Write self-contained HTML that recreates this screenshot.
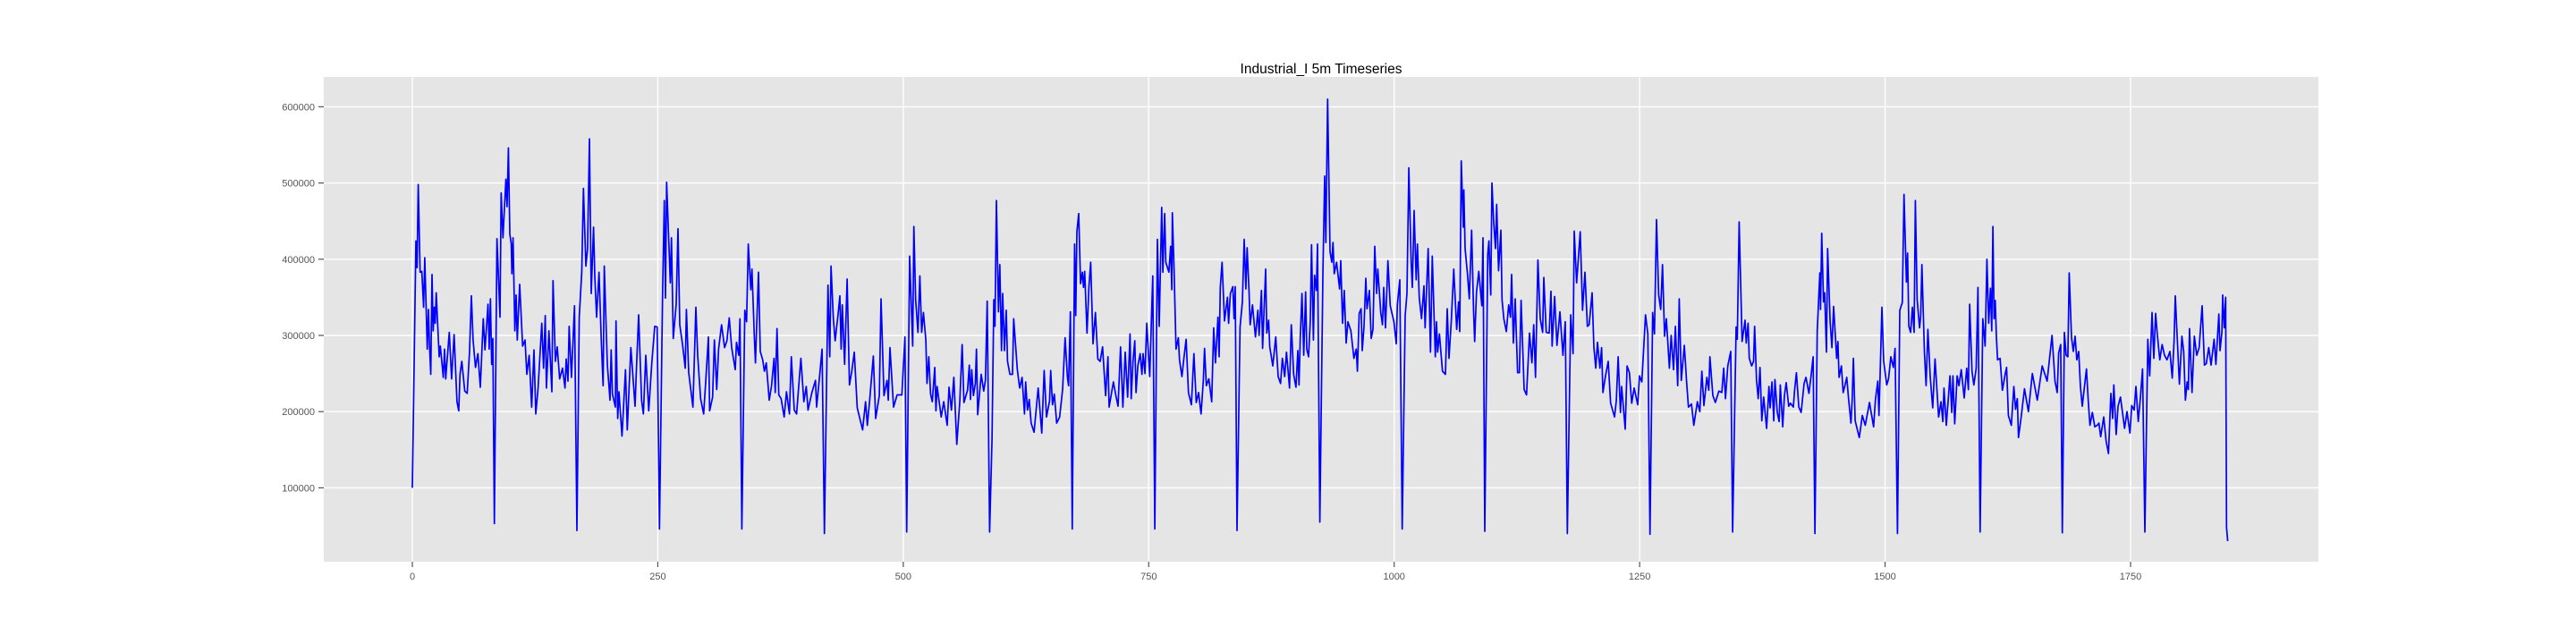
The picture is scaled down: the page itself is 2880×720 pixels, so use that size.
<!DOCTYPE html>
<html><head><meta charset="utf-8"><style>
html,body{margin:0;padding:0;background:#fff;}
svg{display:block;font-family:"Liberation Sans","DejaVu Sans",sans-serif;}
</style></head><body>
<svg id="chart" width="2880" height="720" viewBox="0 0 2880 720" xmlns="http://www.w3.org/2000/svg">
<rect x="0" y="0" width="2880" height="720" fill="#ffffff"/>
<rect x="362" y="86" width="2230" height="542" fill="#e5e5e5"/>
<g id="grid"></g>
<g id="ticks"></g>
<path id="series" fill="none" stroke="#0000ff" stroke-width="1.7" stroke-linejoin="round"/>
<text x="1477" y="82" font-size="15.5" text-anchor="middle" fill="#000">Industrial_I 5m Timeseries</text>
</svg>
<script>
const xTicks = [0, 250, 500, 750, 1000, 1250, 1500, 1750];
const yTicks = [100000, 200000, 300000, 400000, 500000, 600000];
const idx = [0,3.6,4.8,6,7.9,9.7,11.5,12.7,15.2,16.4,17.6,18.8,20,21.2,22.4,23.3,24.3,27.3,28.5,31.5,32.8,34,35.8,37.6,40,42.5,45.5,47.3,48.6,50.4,53.4,55.8,58.3,60.1,61.9,64.3,66.8,69.2,72.2,74,77.1,78.3,79.5,80.8,82,83.5,86.2,89.3,90.5,92.3,95.3,96.5,97.8,99.3,100.8,101.4,102.6,104.4,105.7,106.9,109.3,112.3,114.8,116.6,119,121.5,123.9,125.7,128.1,131.8,133.6,135.4,136.6,139.1,142.1,143.3,145.7,147.6,150,153,155.5,156.7,158.5,159.7,162.1,165.2,167.6,170,172.5,174.3,176.7,178.5,180.4,182.2,184.6,185.8,187.7,190.1,192.5,194.3,195.5,198.6,
201.3,202.5,203.8,206.8,207.4,209.2,210.4,213.5,217.1,218.9,222.6,226.8,228,230.5,233.5,235.3,237.8,240.8,243.8,246.9,249.3,251.7,254.8,256.6,257.8,259,262.7,263.9,265.7,268.7,270.6,272.4,275.4,277.9,279.1,281.5,285.8,288.8,290.6,293.6,296.7,299.1,301.5,302.8,305.8,307.6,310,311.9,314.9,318,320.4,322.8,325.2,328.9,330.1,332.5,333.7,335.6,338.6,340.4,342.2,344.7,345.9,348.3,349.5,352.6,354.4,356.8,358.6,360.5,363.5,365.9,368.4,369.6,371.4,373.2,375.6,378.7,381.1,384.1,386,389,391.4,395.7,398.7,401.2,403,
406.9,410.6,411.8,414.2,417.3,419.7,423.3,425.2,426.4,428.8,430.6,433.7,435.5,436.7,437.9,440.3,442.8,445.2,447.6,450.1,453.1,458.6,461.6,463.4,465.8,469.5,471.9,475.6,477.4,480.4,483.5,484.7,486.5,490.1,493.8,498.6,501.7,503.5,506.5,509.6,510.8,512.6,515,516.9,518.7,520.5,523,524.2,526,527.8,529.6,532.1,533.3,534.5,538.7,541.2,544.8,546.6,549.1,551.5,554.5,557.6,560,561.8,565.5,567.3,568.5,569.7,571.5,573.4,574.6,575.8,579.4,581.9,583.7,585.5,588,590.4,592.2,593.4,594.9,597,598.3,600.1,601.3,603.1,604.9,606.2,608.6,
611.3,612.5,616.2,618.6,621,623.5,624.7,626.5,628.3,630.2,633.2,637.4,641.1,643.5,645.9,649,650.2,652,653.8,656.3,659.3,662.3,664.8,667.2,668.4,670.2,672.1,674.5,675.7,676.9,678.7,680.6,682.4,683.6,684.8,687.2,689.1,690.9,693.3,695.7,698.2,700.6,703,706.1,708.5,709.7,714,716.4,718.8,721.3,723.7,726.1,728.5,731,732.2,734,735.8,737.1,738.9,741.3,743.1,744.3,746.2,748,751,754.1,756.2,758.9,760.7,763.2,764.4,766.2,767.4,770.5,772.3,773.5,774.1,775.9,777.8,780.2,781.4,783.8,785.6,788.1,790.5,793.5,796,798.4,800.8,803.3,805.7,806.9,808.7,811.2,814.2,
816.2,818,820.5,821.7,822.9,824.7,827.2,830.2,831.4,833.2,835.7,836.9,838.1,839.9,843,845.4,847.2,849,850.2,852.1,853.3,855.7,858.7,861.2,862.4,864.8,866,869.1,870.3,872.1,873.3,876.4,879.4,881.8,884.3,886.1,888.5,890.3,893.4,895.2,897.6,900,901.9,903.1,904.3,906.1,907.9,909.8,911,912.8,914.6,915.8,917.7,918.9,920.7,921.9,924.3,927.4,929.2,930.4,932.2,934.7,936.5,937.7,939,941.3,944.4,945.6,947.4,949.2,951.1,952.9,955.9,959,961.4,962.6,964.4,966.3,967.5,969.3,971.1,972.3,974.8,976.6,978.4,980.2,982.1,983.3,986.3,988.1,989.3,991.2,993.6,996,999.7,1002.1,1003.3,1005.7,1008.2,1011.2,1013,1014.9,1017.3,1018.5,1020.3,
1022.4,1023.7,1025.5,1027.9,1030.3,1031.5,1034.6,1037,1038.8,1041.9,1043.1,1044.3,1046.1,1049.2,1052.2,1054,1055.8,1058.3,1060.7,1063.7,1065.6,1066.8,1068.3,1070.4,1071,1072.2,1074.7,1076.5,1078.9,1080.8,1082,1083.8,1086.2,1089.3,1090.5,1092.3,1095.3,1096.5,1098.4,1099.6,1101.4,1103.2,1104.4,1106.3,1108.7,1109.9,1111.7,1114.2,1116.6,1118.4,1119.6,1121.4,1123.3,1125.7,1127.5,1129.3,1132.4,1134.8,1137.8,1140.3,1142.1,1143.9,1146.4,1148.8,1151.2,1152.4,1154.9,1157.9,1159.7,1160.9,1163.4,1165.8,1168.8,1171.9,1174.3,1176.4,1179.8,1182.2,1183.4,1185.8,1189.5,1191.9,1194.3,1196.8,1198.6,1201.6,1203.4,1205.3,1207.1,1209.5,1211.3,1212.6,1215,1218,1220.5,1224.5,1226.3,1228.1,
1230.5,1231.7,1235.3,1237.2,1239.6,1242,1244.4,1248.1,1249.9,1252.3,1256,1258.4,1260.5,1263.3,1265.1,1267.2,1269.4,1271.5,1273.3,1275.4,1277.2,1280.3,1282.1,1284.5,1286.4,1288.8,1290.3,1292.4,1295.5,1297.9,1299.7,1302.8,1305.2,1308.8,1311.3,1313.4,1315.5,1318.5,1320.4,1321.6,1324.6,1327.1,1330.7,1333.7,1335.6,1337.4,1339.8,1342.8,1344.7,1348.3,1349.5,1351.4,1354.4,1357.4,1358.6,1360.5,1361.7,1364.1,1366,1367.1,1369,1370.8,1372.6,1374.4,1376.3,1379.3,1381.7,1382.9,1384.8,1386.6,1387.8,1390.2,1392.1,1393.3,1395.7,1397.5,1399.3,1401.8,1403.6,1406.6,1407.8,1409.7,1412.1,1414.5,1417.5,1419.4,1422.4,1424.8,1426.7,1428.5,1430.9,
1433.5,1434.3,1435.5,1437.3,1438.5,1440.3,1441.5,1444,1445.8,1447.6,1450.7,1451.9,1453.1,1455.5,1457.3,1459.2,1461,1462.8,1465.2,1466.5,1467.7,1469.5,1473.7,1476.8,1479.8,1484.1,1488.3,1490.1,1492.6,1493.8,1495,1496.8,1498.6,1501.7,1503.5,1505.9,1508.4,1510.2,1512.6,1515,1517.5,1519.3,1521.7,1522.9,1524.2,1526,1527.8,1529.6,1530.8,1532.7,1535.1,1536.3,1537.5,1540,1541.8,1543.6,1546,1548.5,1550.9,1554.5,1557,1558.8,1560,1562.4,1566.1,1567.9,1569.1,1570.9,1573.4,1575.2,1577.6,1580.6,1583.1,1584.9,1586.1,1588.5,1590.4,1592.8,1594.6,1596.8,1599.5,1601.9,1603.7,1605.5,1607.4,1608.6,1609.8,1611,1612.2,1613.4,1614.6,1617.1,1619.5,1622.6,1623.8,1625.6,1628.6,1631.1,1632.9,1634.7,1635.9,1638.4,
1642,1646,1650,1655,1660,1665,1670,1673,1675.3,1676.8,1678.9,1680.5,1682.6,1684.4,1686.2,1687.5,1689.9,1691.7,1693.5,1695.3,1697.2,1699,1700.8,1702.6,1705.1,1706.9,1708.7,1711.1,1713.6,1716,1717.8,1719.6,1722.7,1725.1,1727.5,1730,1731.8,1733,1735.4,1737.3,1739.7,1743.9,1746.4,1749.4,1751.2,1753.7,1755.5,1757.9,1760.3,1762.2,1764.6,1767.6,1769.5,1771.9,1773.7,1775.5,1777.3,1779.8,1782.2,1784.6,1787.1,1790.1,1792.5,1794.3,1795.6,1798,1799.8,1802.3,1804.1,1805.9,1807.7,1808.9,1810.1,1812.6,1815,1817.4,1819.9,1822.9,1825.3,1827.2,1829.6,1832,1835.1,1836.9,1839.9,1841.1,1843,1843.9,1845.4,1846.9,1847.8,1849];
const vals = [100,424,389,498,383,384,337,402,282,334,284,249,380,306,337,316,356,272,286,245,282,243,274,304,243,301,213,201,249,266,227,224,280,352,294,258,276,232,322,281,341,282,348,262,296,53,427,324,487,428,505,469,546,433,420,381,428,306,353,294,367,286,294,249,274,206,281,197,231,316,257,326,231,306,226,372,266,285,243,257,231,269,240,312,245,339,44,324,383,493,391,414,558,355,442,378,324,383,292,234,391,262,
215,281,223,206,319,191,226,168,255,176,284,207,249,327,215,197,274,201,262,312,311,46,349,477,349,501,369,428,296,341,440,314,286,257,334,251,206,337,274,217,197,245,298,201,219,294,229,282,314,284,293,323,284,255,291,274,322,46,333,318,420,360,387,300,264,383,279,268,253,264,215,234,270,225,309,222,217,193,226,197,272,202,197,270,213,233,202,
225,241,206,239,282,40,366,272,391,322,293,329,352,282,340,262,374,235,253,278,205,176,213,182,215,273,191,221,348,221,241,215,284,206,222,222,298,42,404,286,443,347,304,378,304,330,294,237,272,223,213,258,201,233,193,213,182,232,202,245,157,214,288,212,228,261,216,255,221,237,282,196,249,227,241,345,42,164,347,312,477,331,393,280,355,280,333,266,249,
249,322,255,231,245,197,239,202,216,185,173,231,172,254,193,214,254,209,223,185,193,229,297,245,234,331,46,420,326,436,460,368,383,363,384,303,363,396,289,330,269,266,285,221,272,206,239,222,207,285,206,278,219,302,217,266,293,225,260,276,249,276,250,316,246,378,46,426,312,468,383,460,396,383,417,360,461,383,282,297,268,246,268,295,225,209,276,212,225,197,242,283,234,243,213,
310,264,324,272,363,396,319,350,316,355,364,322,364,44,311,344,426,361,415,359,314,340,298,333,300,359,283,387,303,320,285,260,298,246,237,270,246,278,231,314,249,232,280,235,296,355,274,357,282,272,322,419,294,379,359,420,55,379,509,422,610,410,396,422,381,396,361,398,316,359,290,318,306,270,282,253,329,335,280,312,375,335,359,296,308,417,355,387,330,314,363,310,398,339,318,289,341,373,46,326,355,520,396,363,464,
373,420,350,322,365,310,414,278,404,272,318,278,302,253,249,335,270,322,387,308,344,305,529,442,491,414,380,348,438,335,292,356,384,339,428,43,406,424,353,500,448,414,472,385,438,347,322,305,340,324,380,290,348,251,251,346,229,222,303,264,314,245,399,322,304,376,304,303,358,286,351,287,331,274,318,40,327,276,437,369,436,333,383,312,314,356,284,257,291,257,284,225,245,266,211,193,215,272,
199,233,177,260,251,211,231,209,247,239,327,302,39,330,302,452,353,334,393,299,322,257,300,255,312,234,348,241,287,238,206,210,182,213,200,253,208,245,228,272,221,212,227,225,257,217,260,279,42,311,295,449,292,320,290,316,270,260,266,312,242,217,258,188,219,178,233,205,239,188,242,199,187,235,180,221,238,207,211,206,227,251,206,199,237,245,224,249,272,40,306,
382,334,434,344,356,278,414,318,284,338,270,292,245,260,225,235,245,217,185,217,270,188,166,195,182,212,180,215,240,195,253,337,266,235,243,272,258,283,40,333,343,485,370,408,312,304,337,304,477,347,310,326,393,279,234,308,246,205,269,193,213,187,231,182,247,199,247,184,247,234,255,218,257,229,341,253,235,257,363,42,322,286,400,316,362,306,443,322,346,298,268,270,228,251,258,195,182,233,203,217,166,191,
230,200,250,215,260,240,300,240,225,277,288,41,304,274,272,382,297,279,299,268,279,232,207,227,256,214,182,199,180,182,185,167,193,162,145,224,191,235,170,207,219,178,200,172,208,202,233,187,223,256,42,295,247,330,270,329,301,268,288,274,268,279,244,292,352,283,236,299,279,215,239,229,309,225,299,274,284,339,261,263,284,261,295,262,328,280,304,353,310,350,48,30];

const X0 = 461, XK = 1.0977;           // px per index
const Y100 = 545.4, YK = 85.2 / 100000; // px per unit
function xScale(i){ return X0 + i * XK; }
function yScale(v){ return Y100 - (v - 100000) * YK; }

const svgNS = "http://www.w3.org/2000/svg";
const grid = document.getElementById('grid');
const ticks = document.getElementById('ticks');

yTicks.forEach(v => {
  const y = yScale(v);
  const gl = document.createElementNS(svgNS, 'line');
  
  
  gl.setAttribute('x1', 362); gl.setAttribute('x2', 2592);
  gl.setAttribute('y1', y); gl.setAttribute('y2', y);
  gl.setAttribute('stroke', '#ffffff'); gl.setAttribute('stroke-width', '1.4');
  grid.appendChild(gl);
  const tk = document.createElementNS(svgNS, 'line');
  
  
  tk.setAttribute('x1', 356); tk.setAttribute('x2', 362);
  tk.setAttribute('y1', y); tk.setAttribute('y2', y);
  tk.setAttribute('stroke', '#555'); tk.setAttribute('stroke-width', '1.2');
  ticks.appendChild(tk);
  const t = document.createElementNS(svgNS, 'text');
  
  
  t.setAttribute('x', 352); t.setAttribute('y', y + 4);
  t.setAttribute('text-anchor', 'end'); t.setAttribute('font-size', '11');
  t.setAttribute('fill', '#555');
  t.textContent = String(v);
  ticks.appendChild(t);
});

xTicks.forEach(v => {
  const x = xScale(v);
  const gl = document.createElementNS(svgNS, 'line');
  
  
  gl.setAttribute('x1', x); gl.setAttribute('x2', x);
  gl.setAttribute('y1', 86); gl.setAttribute('y2', 628);
  gl.setAttribute('stroke', '#ffffff'); gl.setAttribute('stroke-width', '1.4');
  grid.appendChild(gl);
  const tk = document.createElementNS(svgNS, 'line');
  
  
  tk.setAttribute('x1', x); tk.setAttribute('x2', x);
  tk.setAttribute('y1', 628); tk.setAttribute('y2', 634);
  tk.setAttribute('stroke', '#555'); tk.setAttribute('stroke-width', '1.2');
  ticks.appendChild(tk);
  const t = document.createElementNS(svgNS, 'text');
  
  
  t.setAttribute('x', x); t.setAttribute('y', 648);
  t.setAttribute('text-anchor', 'middle'); t.setAttribute('font-size', '11');
  t.setAttribute('fill', '#555');
  t.textContent = String(v);
  ticks.appendChild(t);
});

let d = '';
for (let k = 0; k < idx.length && k < vals.length; k++) {
  d += (k ? 'L' : 'M') + xScale(idx[k]).toFixed(1) + ',' + yScale(vals[k] * 1000).toFixed(1);
}
document.getElementById('series').setAttribute('d', d);
</script>
</body></html>
